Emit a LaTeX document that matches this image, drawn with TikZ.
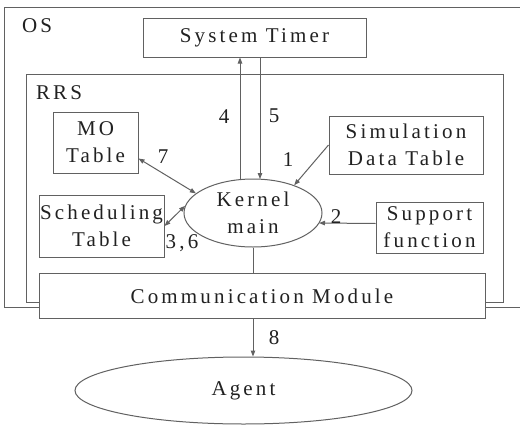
\documentclass[tikz,border=0pt]{standalone}
\usepackage{fontspec}
\setmainfont{Liberation Serif}[LetterSpace=15]
\usetikzlibrary{arrows.meta,calc,shapes.geometric}
\definecolor{lc}{gray}{0.38}
\definecolor{tc}{gray}{0.13}
\begin{document}
\begin{tikzpicture}[x=1pt,y=-1pt,
  every node/.style={text=tc,font=\fontsize{21}{27}\selectfont,inner sep=0pt},
  box/.style={draw=lc,line width=1pt,fill=white,align=center},
  oval/.style={draw=lc,line width=1pt,fill=white,ellipse,align=center},
  frame/.style={draw=lc,line width=1pt},
  link/.style={draw=lc,line width=1pt},
  arr/.style={draw=lc,line width=1pt,-{Triangle[length=6pt,width=4.5pt]}},
  darr/.style={draw=lc,line width=1pt,{Triangle[length=6pt,width=4.5pt]}-{Triangle[length=6pt,width=4.5pt]}},
  lbl/.style={}]
\useasboundingbox (0,0) rectangle (520,426);
\fill[white] (0,0) rectangle (520,426);
% containers
\draw[frame] (521,7) -- (4,7) -- (4,307) -- (521,307);
\draw[frame] (26,74) rectangle (503,302);
\node[lbl] (os) at (37,26) {OS};
\node[lbl] (rrs) at (59,93) {RRS};
% nodes
\node[box,minimum width=223pt,minimum height=39pt] (tim) at (254.5,37.5) {System Timer};
\node[box,minimum width=85pt,minimum height=61pt] (mo) at (95.5,142.5) {MO\\Table};
\node[box,minimum width=154pt,minimum height=58pt] (sim) at (406,145) {Simulation\\Data Table};
\node[oval,minimum width=138pt,minimum height=68pt] (kern) at (253,213) {Kernel\\main};
\node[box,minimum width=125pt,minimum height=62pt] (sch) at (101.5,226) {Scheduling\\Table};
\node[box,minimum width=107pt,minimum height=51pt] (supp) at (429.5,227.5) {Support\\function};
\node[box,minimum width=446pt,minimum height=45pt] (comm) at (262,296) {Communication Module};
\node[oval,minimum width=337pt,minimum height=67pt] (agent) at (243.5,390.5) {Agent};
% helper coordinates
\coordinate (k4) at ($(kern.north)+(-13,1)$);
\coordinate (k5) at ($(kern.north)+(7,0.5)$);
% connectors
\draw[arr] (k4) -- (k4 |- tim.south);
\draw[arr] (k5 |- tim.south) -- (k5);
\draw[arr] (sim.west) -- (kern.34);
\draw[darr] ($(mo.east)+(0,16)$) -- (kern.161);
\draw[darr] (sch.east) -- (kern.174);
\draw[arr] ($(supp.west)+(0,-4)$) -- ($(kern.center)+(66,10)$);
\draw[link] (kern.south) -- (kern.south |- comm.north);
\draw[arr] (kern.south |- comm.south) -- (kern.south |- agent.north);
% labels
\node[lbl] (l4) at (224,117) {4};
\node[lbl] (l5) at (274,116) {5};
\node[lbl] (l7) at (163,157) {7};
\node[lbl] (l1) at (288,160) {1};
\node[lbl] (l2) at (336,217) {2};
\node[lbl] (l36) at (182,243) {3,6};
\node[lbl] (l8) at (274,338) {8};
\end{tikzpicture}
\end{document}
